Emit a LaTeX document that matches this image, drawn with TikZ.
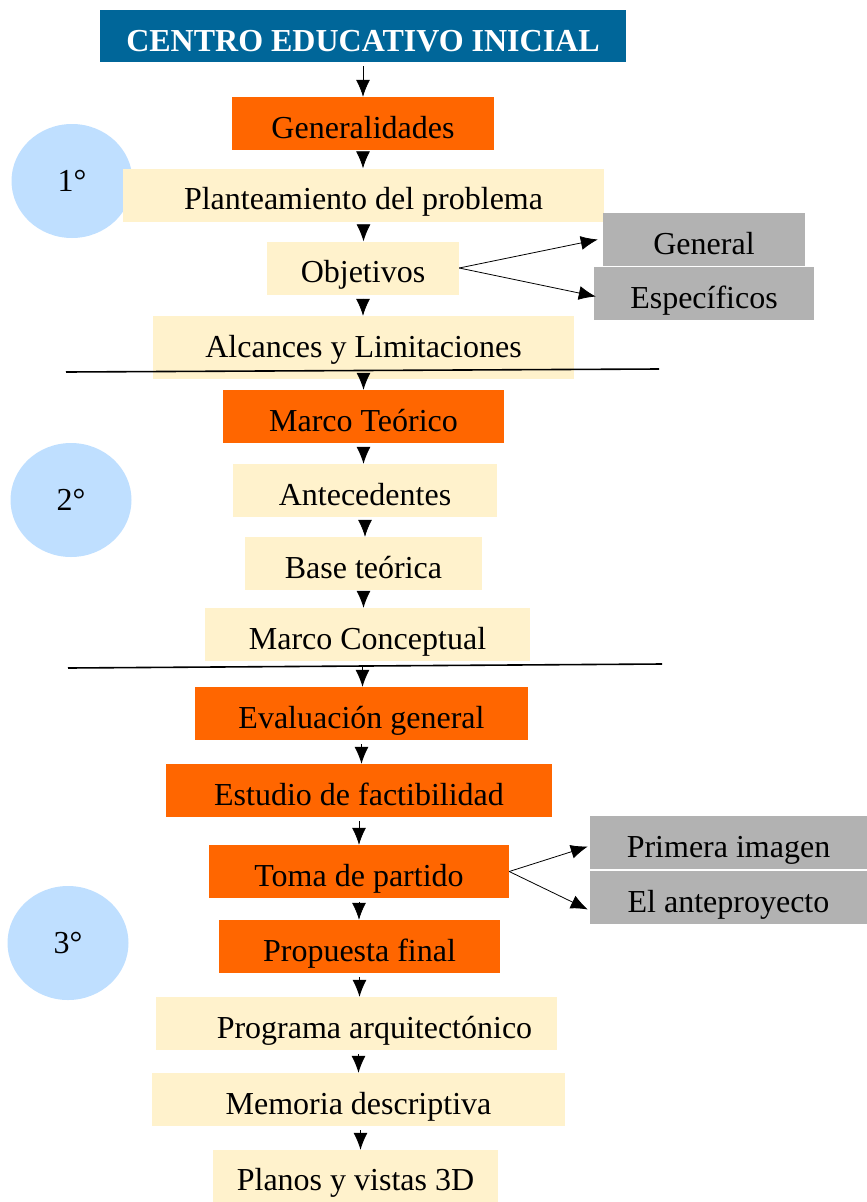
\documentclass[tikz,border=0pt]{standalone}
\usepackage{fontspec}
\setmainfont{Liberation Serif}
\usetikzlibrary{arrows.meta,shapes.geometric}
\definecolor{tituloazul}{HTML}{006699}
\definecolor{naranja}{HTML}{FF6600}
\definecolor{crema}{HTML}{FFF2CC}
\definecolor{gris}{HTML}{B2B2B2}
\definecolor{celeste}{HTML}{BFDFFF}
\begin{document}
\begin{tikzpicture}[
			x=1pt, y=-1pt,
			box/.style={
				rectangle,
				inner sep=0pt,
				text height=41pt,
				text depth=12pt,
				font=\fontsize{32}{38}\selectfont,
			},
			fase/.style={box, fill=naranja},
			paso/.style={box, fill=crema},
			rama/.style={box, fill=gris},
			etapa/.style={
				ellipse,
				fill=celeste,
				minimum width=121pt,
				minimum height=114pt,
				font=\fontsize{32}{38}\selectfont,
			},
			ArrowC1/.style={% flechas del esquema
				-{Latex[length=17pt,width=14pt]},
				line width=0.8pt,
			},
			]
				\useasboundingbox (0,0) rectangle (867,1202);
				% etapas
				\node[etapa] (e1) at (72,181) {1°};
				\node[etapa] (e2) at (71,500) {2°};
				\node[etapa] (e3) at (68,943) {3°};
				
				% titulo
				\node[box, fill=tituloazul, text=white, font=\fontsize{32}{38}\selectfont\bfseries, text depth=11pt, minimum width=526pt] (tit) at (363,36) {CENTRO EDUCATIVO INICIAL};
				
				% primera etapa
				\node[fase, minimum width=262pt] (gen) at (363,123.5) {Generalidades};
				\node[paso, minimum width=481pt] (plan) at (363.5,195) {Planteamiento del problema};
				\node[paso, minimum width=192pt] (obj) at (363,268) {Objetivos};
				\node[paso, minimum width=421pt, text depth=22pt] (alc) at (363.5,347.5) {Alcances y Limitaciones};
				\node[rama, minimum width=202pt] (gral) at (704,239.5) {General};
				\node[rama, minimum width=220pt] (esp) at (704,293.5) {Específicos};
				
				% segunda etapa
				\node[fase, minimum width=281pt] (mt) at (363.5,416.5) {Marco Teórico};
				\node[paso, minimum width=264pt] (ant) at (365,490.5) {Antecedentes};
				\node[paso, minimum width=237pt] (base) at (363.5,563.5) {Base teórica};
				\node[paso, minimum width=325pt] (mc) at (367.5,634.5) {Marco Conceptual};
				
				% tercera etapa
				\node[fase, minimum width=333pt] (eval) at (361.5,713.5) {Evaluación general};
				\node[fase, minimum width=386pt] (est) at (359,790.5) {Estudio de factibilidad};
				\node[fase, minimum width=300pt] (toma) at (359,871.5) {Toma de partido};
				\node[fase, minimum width=281pt] (prop) at (359.5,946.5) {Propuesta final};
				\node[paso, minimum width=401pt] (prog) at (356.5,1023.5) {\hspace*{36pt}Programa arquitectónico};
				\node[paso, minimum width=413pt] (mem) at (358.5,1099.5) {Memoria descriptiva};
				\node[paso, minimum width=285pt, text height=40pt] (pla) at (355.5,1176) {Planos y vistas 3D};
				\node[rama, minimum width=277pt] (prim) at (728.5,842.5) {Primera imagen};
				\node[rama, minimum width=277pt] (antp) at (728.5,897.5) {El anteproyecto};
				
				% separadores
				\coordinate (s1a) at (66,372);
				\coordinate (s1b) at (659,369);
				\coordinate (s2a) at (68,668);
				\coordinate (s2b) at (662,664);
				\draw[line width=1.6pt] (s1a) -- (s1b);
				\draw[line width=1.6pt] (s2a) -- (s2b);
				
				% flechas
				\draw[ArrowC1] ([yshift=-4pt]tit.south) -- (tit.south |- gen.north);
				\draw[ArrowC1] ([yshift=-4pt]gen.south) -- (gen.south |- plan.north);
				\draw[ArrowC1] ([yshift=-4pt]plan.south) -- (plan.south |- obj.north);
				\draw[ArrowC1] ([yshift=-4pt]obj.south) -- (obj.south |- alc.north);
				\draw[ArrowC1] ([yshift=-4pt]alc.south) -- (alc.south |- mt.north);
				\draw[ArrowC1] ([yshift=-4pt]mt.south) -- (mt.south |- ant.north);
				\draw[ArrowC1] ([yshift=-4pt]ant.south) -- (ant.south |- base.north);
				\draw[ArrowC1] ([yshift=-4pt]base.south) -- (base.south |- mc.north);
				\draw[ArrowC1] ([xshift=-5pt,yshift=-4pt]mc.south) -- ([xshift=-5pt]mc.south |- eval.north);
				\draw[ArrowC1] ([yshift=-4pt]eval.south) -- (eval.south |- est.north);
				\draw[ArrowC1] ([yshift=-4pt]est.south) -- (est.south |- toma.north);
				\draw[ArrowC1] ([yshift=-4pt]toma.south) -- (toma.south |- prop.north);
				\draw[ArrowC1] ([yshift=-4pt]prop.south) -- (prop.south |- prog.north);
				\draw[ArrowC1] ([xshift=2pt,yshift=-4pt]prog.south) -- ([xshift=2pt]prog.south |- mem.north);
				\draw[ArrowC1] ([xshift=2pt,yshift=-4pt]mem.south) -- ([xshift=2pt]mem.south |- pla.north);
				
				\draw[ArrowC1] (obj.east) -- ([xshift=-5pt]gral.west);
				\draw[ArrowC1] (obj.east) -- ([xshift=2pt,yshift=-3pt]esp.west);
				\draw[ArrowC1] (toma.east) -- ([xshift=-2pt,yshift=-4pt]prim.west);
				\draw[ArrowC1] (toma.east) -- ([xshift=-2pt,yshift=-12pt]antp.west);
			\end{tikzpicture}
\end{document}
